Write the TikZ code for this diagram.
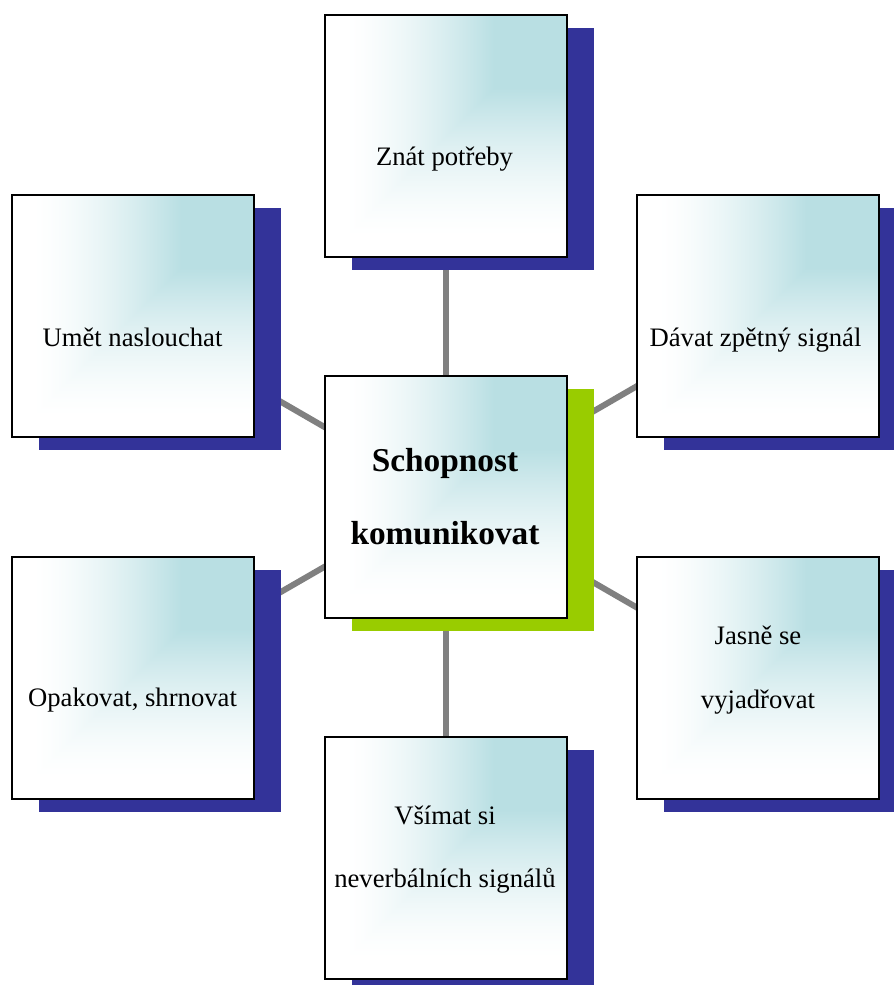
\documentclass[tikz,border=0pt]{standalone}
\usepackage{fontspec}
\setmainfont{Liberation Serif}
\usetikzlibrary{shadows,backgrounds}

\definecolor{shadowblue}{RGB}{51,51,153}
\definecolor{shadowgreen}{RGB}{153,204,0}
\definecolor{linkgray}{RGB}{128,128,128}

% card tint: a corner gradient, teal (185,223,227) at the top right fading to
% white towards the left and bottom edges (the path covers -25bp..25bp)
\pgfdeclarefunctionalshading{cardtint}{\pgfpoint{-50bp}{-50bp}}{\pgfpoint{50bp}{50bp}}{}{
  2 copy gt {exch} if pop
  21 add 31 div dup 0 lt {pop 0} if dup 1 gt {pop 1} if
  dup sqrt mul
  dup 0.2745 mul 1 exch sub
  exch dup 0.1255 mul 1 exch sub
  exch 0.1098 mul 1 exch sub
}

\tikzset{
  card/.style={
    draw=black, line width=1.5pt, inner sep=0pt,
    minimum width=181.5pt, minimum height=181.5pt,
    shading=cardtint
  },
  blueshadow/.style={drop shadow={shadow xshift=20.25pt, shadow yshift=-9.75pt,
      fill=shadowblue, opacity=1}},
  greenshadow/.style={drop shadow={shadow xshift=20.25pt, shadow yshift=-9.75pt,
      fill=shadowgreen, opacity=1}},
  caption/.style={anchor=base, inner sep=0pt, font=\fontsize{20pt}{24pt}\selectfont},
  maincaption/.style={anchor=base, inner sep=0pt, font=\fontsize{25pt}{30pt}\selectfont\bfseries},
  link/.style={draw=linkgray, line width=4.5pt}
}

\begin{document}
\begin{tikzpicture}[x=0.75pt, y=-0.75pt]
  % cards with their offset shadows
  \node[card, greenshadow] (c)   at (445.5, 497) {};
  \node[card, blueshadow]  (top) at (445.5, 136) {};
  \node[card, blueshadow]  (ul)  at (132.5, 316) {};
  \node[card, blueshadow]  (ur)  at (758,   316) {};
  \node[card, blueshadow]  (ll)  at (132.5, 677.5) {};
  \node[card, blueshadow]  (lr)  at (758,   677.5) {};
  \node[card, blueshadow]  (bot) at (445.5, 858) {};

  % captions
  \node[maincaption] (c1) at (445, 471) {Schopnost};
  \node[maincaption] (c2) at (445, 544) {komunikovat};
  \node[caption] (t1) at (444.5, 165) {Znát potřeby};
  \node[caption] (t2) at (132.5, 346) {Umět naslouchat};
  \node[caption] (t3) at (755.5, 346) {Dávat zpětný signál};
  \node[caption] (t4) at (132.5, 706) {Opakovat, shrnovat};
  \node[caption] (t5a) at (758, 644) {Jasně se};
  \node[caption] (t5b) at (758, 708) {vyjadřovat};
  \node[caption] (t6a) at (445, 824) {Všímat si};
  \node[caption] (t6b) at (445, 887) {neverbálních signálů};

  % page and spokes behind everything
  \begin{scope}[on background layer]
    \path[use as bounding box, fill=white] (0,0) rectangle (893,985);
    \draw[link] (c.center) -- (top.center);
    \draw[link] (c.center) -- (ul.center);
    \draw[link] (c.center) -- (ur.center);
    \draw[link] (c.center) -- (ll.center);
    \draw[link] (c.center) -- (lr.center);
    \draw[link] (c.center) -- (bot.center);
  \end{scope}
\end{tikzpicture}
\end{document}
